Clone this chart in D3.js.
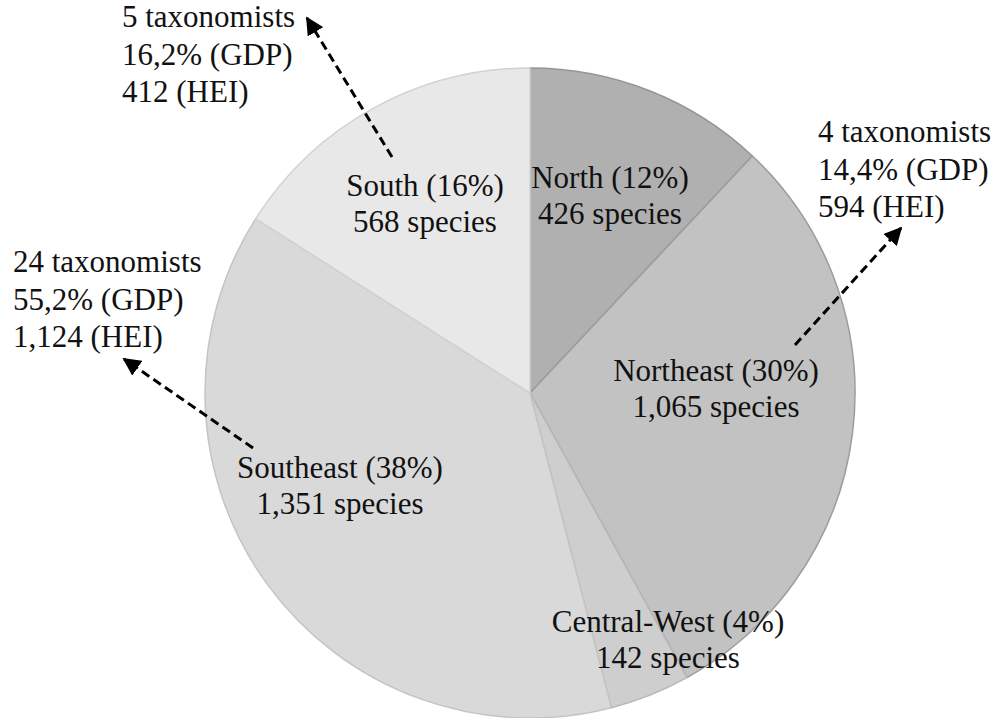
<!DOCTYPE html>
<html>
<head>
<meta charset="utf-8">
<script src="https://cdn.jsdelivr.net/npm/d3@7"></script>
</head>
<body style="margin:0;background:#fff">
<svg id="chart" width="995" height="718" style="display:block"></svg>
<script>
// ---- data ----
const regions = ["North", "Northeast", "Central-West", "Southeast", "South"];
const species = [426, 1065, 142, 1351, 568];
const percents = [12, 30, 4, 38, 16];
const speciesLabels = ["426", "1,065", "142", "1,351", "568"];
const fills = ["#b0b0b0", "#c2c2c2", "#cecece", "#d9d9d9", "#e8e8e8"];
const strokes = ["#969696", "#9c9c9c", "#b8b8b8", "#c4c4c4", "#d2d2d2"];
// annotations (taxonomists, GDP share, HEI)
const annRegions = ["South", "Northeast", "Southeast"];
const taxonomists = [5, 4, 24];
const gdp = ["16,2%", "14,4%", "55,2%"];
const hei = ["412", "594", "1,124"];

// ---- layout ----
const cx = 530, cy = 393, R = 325;
const svg = d3.select("#chart");

function addText(parent, x, y, s, anchor) {
  return parent.append("text")
    .attr("x", x).attr("y", y)
    .attr("text-anchor", anchor)
    .attr("font-size", 31)
    .style("font-family", '"Liberation Serif", "Times New Roman", serif')
    .attr("fill", "#111")
    .text(s);
}

svg.append("defs").append("marker")
  .attr("id", "arrow").attr("viewBox", "0 0 10 10")
  .attr("refX", 9).attr("refY", 5)
  .attr("markerWidth", 6).attr("markerHeight", 6)
  .attr("markerUnits", "strokeWidth")
  .attr("orient", "auto")
  .append("path").attr("d", "M0,0 L10,5 L0,10 z").attr("fill", "#000");

const pie = d3.pie().sort(null).value(d => d.v);
const data = regions.map((r, i) => ({ r, v: species[i], i }));
const arcs = pie(data);
const arc = d3.arc().innerRadius(0).outerRadius(R);

const g = svg.append("g").attr("transform", `translate(${cx},${cy})`);
g.selectAll("path.slice").data(arcs).join("path")
  .attr("class", "slice")
  .attr("d", arc)
  .attr("fill", d => fills[d.data.i])
  .attr("stroke", d => strokes[d.data.i])
  .attr("stroke-width", 1.5)
  .attr("stroke-linejoin", "round");

// in-slice label positions (offsets from centre, px)
const labelPos = {
  "North": [80, -205],
  "Northeast": [186, -12],
  "Central-West": [138, 239],
  "Southeast": [-190, 85],
  "South": [-105, -197]
};
const lh = 36;
arcs.forEach(d => {
  const name = d.data.r, i = d.data.i;
  const [dx, dy] = labelPos[name];
  addText(g, dx, dy, `${name} (${percents[i]}%)`, "middle");
  addText(g, dx, dy + lh, `${speciesLabels[i]} species`, "middle");
});

// annotation blocks
const annPos = {
  "South": { x: 122, y: 27, from: [392, 157], to: [307, 18] },
  "Northeast": { x: 818, y: 142, from: [795, 345], to: [901, 228] },
  "Southeast": { x: 13, y: 272, from: [253, 448], to: [124, 359] }
};
annRegions.forEach((name, k) => {
  const p = annPos[name];
  const lines = [`${taxonomists[k]} taxonomists`, `${gdp[k]} (GDP)`, `${hei[k]} (HEI)`];
  lines.forEach((s, j) => addText(svg, p.x, p.y + j * 37.5, s, "start"));
  svg.append("line")
    .attr("x1", p.from[0]).attr("y1", p.from[1])
    .attr("x2", p.to[0]).attr("y2", p.to[1])
    .attr("stroke", "#000").attr("stroke-width", 3)
    .attr("stroke-dasharray", "9,5")
    .attr("marker-end", "url(#arrow)");
});
</script>
</body>
</html>
